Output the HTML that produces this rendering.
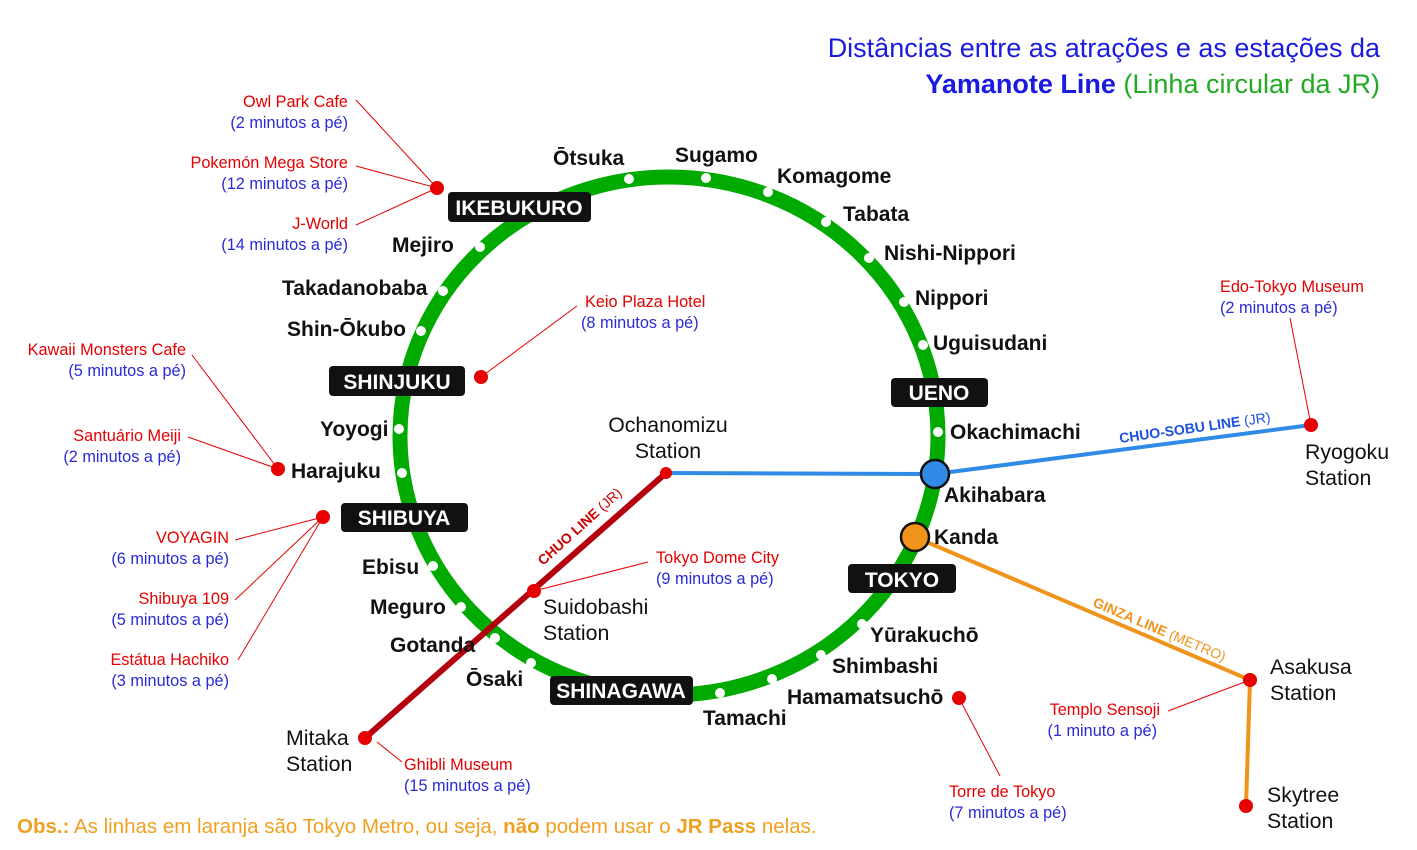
<!DOCTYPE html>
<html><head><meta charset="utf-8"><style>
body{margin:0;background:#fff}
svg{display:block;font-family:"Liberation Sans",sans-serif}
.s{font-weight:bold;font-size:21px;fill:#111}
.b{font-weight:bold;font-size:21px;fill:#fff}
.r{font-size:16.3px;fill:#e60000}
.u{font-size:16.3px;fill:#2a2ad8}
.t{font-size:21.3px;fill:#111}
</style></head><body>
<svg width="1417" height="850" viewBox="0 0 1417 850">
<text x="1380" y="57" text-anchor="end" font-size="27" fill="#1a1ae0">Distâncias entre as atrações e as estações da</text>
<text x="1380" y="93" text-anchor="end" font-size="27" fill="#22aa22"><tspan fill="#1a1ae0" font-weight="bold">Yamanote Line</tspan> (Linha circular da JR)</text>
<ellipse cx="669" cy="436" rx="269" ry="259" fill="none" stroke="#00aa00" stroke-width="15"/>
<g fill="#fff">
<circle cx="629" cy="179" r="5"/><circle cx="706" cy="178" r="5"/><circle cx="768" cy="192" r="5"/><circle cx="826" cy="222" r="5"/><circle cx="869" cy="258" r="5"/><circle cx="904" cy="302" r="5"/><circle cx="923" cy="345" r="5"/><circle cx="938" cy="432" r="5"/>
<circle cx="480" cy="247" r="5"/><circle cx="443" cy="291" r="5"/><circle cx="421" cy="331" r="5"/><circle cx="399" cy="429" r="5"/><circle cx="402" cy="473" r="5"/><circle cx="433" cy="566" r="5"/><circle cx="461" cy="607" r="5"/><circle cx="495" cy="638" r="5"/><circle cx="531" cy="663" r="5"/><circle cx="720" cy="693" r="5"/><circle cx="772" cy="679" r="5"/><circle cx="821" cy="655" r="5"/><circle cx="862" cy="624" r="5"/>
</g>
<polyline points="666,473 935,474 1311,425" fill="none" stroke="#2f8be6" stroke-width="4"/>
<line x1="666" y1="473" x2="365" y2="738" stroke="#b3000c" stroke-width="6"/>
<polyline points="915,537 1250,680 1246,806" fill="none" stroke="#f0931a" stroke-width="4"/>
<circle cx="935" cy="474" r="14" fill="#2f8be6" stroke="#111" stroke-width="2.5"/>
<circle cx="915" cy="537" r="14" fill="#f0931a" stroke="#111" stroke-width="2.5"/>
<text x="1120" y="443" font-size="14" font-weight="bold" fill="#1a4fe0" transform="rotate(-8 1120 443)">CHUO-SOBU LINE <tspan font-weight="normal">(JR)</tspan></text>
<text x="543" y="566" font-size="14" font-weight="bold" fill="#d00000" transform="rotate(-42 543 566)">CHUO LINE <tspan font-weight="normal">(JR)</tspan></text>
<text x="1092" y="606" font-size="14" font-weight="bold" fill="#f0931a" transform="rotate(23 1092 606)">GINZA LINE <tspan font-weight="normal">(METRO)</tspan></text>
<g stroke="#e60000" stroke-width="1">
<line x1="356" y1="100" x2="437" y2="188"/><line x1="356" y1="166" x2="437" y2="188"/><line x1="356" y1="225" x2="437" y2="188"/>
<line x1="577" y1="306" x2="481" y2="377"/>
<line x1="192" y1="355" x2="278" y2="469"/><line x1="188" y1="437" x2="278" y2="469"/>
<line x1="235" y1="540" x2="323" y2="517"/><line x1="235" y1="600" x2="323" y2="517"/><line x1="238" y1="660" x2="323" y2="517"/>
<line x1="648" y1="562" x2="534" y2="591"/>
<line x1="377" y1="742" x2="402" y2="762"/>
<line x1="1290" y1="318" x2="1311" y2="425"/>
<line x1="1168" y1="711" x2="1250" y2="680"/>
<line x1="959" y1="698" x2="1000" y2="776"/>
</g>
<g fill="#e60000">
<circle cx="437" cy="188" r="7"/><circle cx="481" cy="377" r="7"/><circle cx="278" cy="469" r="7"/><circle cx="323" cy="517" r="7"/><circle cx="666" cy="473" r="6"/><circle cx="534" cy="591" r="7"/><circle cx="365" cy="738" r="7"/><circle cx="1311" cy="425" r="7"/><circle cx="1250" cy="680" r="7"/><circle cx="1246" cy="806" r="7"/><circle cx="959" cy="698" r="7"/>
</g>
<g fill="#111">
<rect x="448" y="192" width="143" height="30" rx="4"/><rect x="329" y="366" width="136" height="30" rx="4"/><rect x="891" y="378" width="97" height="29" rx="4"/><rect x="341" y="503" width="127" height="29" rx="4"/><rect x="848" y="564" width="108" height="29" rx="4"/><rect x="550" y="676" width="143" height="29" rx="4"/>
</g>
<text class="b" x="519" y="215" text-anchor="middle">IKEBUKURO</text>
<text class="b" x="397" y="389" text-anchor="middle">SHINJUKU</text>
<text class="b" x="939" y="400" text-anchor="middle">UENO</text>
<text class="b" x="404" y="525" text-anchor="middle">SHIBUYA</text>
<text class="b" x="902" y="587" text-anchor="middle">TOKYO</text>
<text class="b" x="621" y="698" text-anchor="middle">SHINAGAWA</text>
<text class="s" x="553" y="165">Ōtsuka</text>
<text class="s" x="675" y="162">Sugamo</text>
<text class="s" x="777" y="183">Komagome</text>
<text class="s" x="843" y="221">Tabata</text>
<text class="s" x="884" y="260">Nishi-Nippori</text>
<text class="s" x="915" y="305">Nippori</text>
<text class="s" x="933" y="350">Uguisudani</text>
<text class="s" x="950" y="439">Okachimachi</text>
<text class="s" x="944" y="502">Akihabara</text>
<text class="s" x="934" y="544">Kanda</text>
<text class="s" x="870" y="642">Yūrakuchō</text>
<text class="s" x="832" y="673">Shimbashi</text>
<text class="s" x="787" y="704">Hamamatsuchō</text>
<text class="s" x="703" y="725">Tamachi</text>
<text class="s" x="466" y="686">Ōsaki</text>
<text class="s" x="390" y="652">Gotanda</text>
<text class="s" x="370" y="614">Meguro</text>
<text class="s" x="362" y="574">Ebisu</text>
<text class="s" x="291" y="478">Harajuku</text>
<text class="s" x="320" y="436">Yoyogi</text>
<text class="s" x="287" y="336">Shin-Ōkubo</text>
<text class="s" x="282" y="295">Takadanobaba</text>
<text class="s" x="392" y="252">Mejiro</text>
<text class="t" x="668" y="432" text-anchor="middle">Ochanomizu</text>
<text class="t" x="668" y="458" text-anchor="middle">Station</text>
<text class="t" x="543" y="614">Suidobashi</text><text class="t" x="543" y="640">Station</text>
<text class="t" x="286" y="745">Mitaka</text><text class="t" x="286" y="771">Station</text>
<text class="t" x="1305" y="459">Ryogoku</text><text class="t" x="1305" y="485">Station</text>
<text class="t" x="1270" y="674">Asakusa</text><text class="t" x="1270" y="700">Station</text>
<text class="t" x="1267" y="802">Skytree</text><text class="t" x="1267" y="828">Station</text>
<g text-anchor="end">
<text class="r" x="348" y="107">Owl Park Cafe</text><text class="u" x="348" y="128">(2 minutos a pé)</text>
<text class="r" x="348" y="168">Pokemón Mega Store</text><text class="u" x="348" y="189">(12 minutos a pé)</text>
<text class="r" x="348" y="229">J-World</text><text class="u" x="348" y="250">(14 minutos a pé)</text>
<text class="r" x="186" y="355">Kawaii Monsters Cafe</text><text class="u" x="186" y="376">(5 minutos a pé)</text>
<text class="r" x="181" y="441">Santuário Meiji</text><text class="u" x="181" y="462">(2 minutos a pé)</text>
<text class="r" x="229" y="543">VOYAGIN</text><text class="u" x="229" y="564">(6 minutos a pé)</text>
<text class="r" x="229" y="604">Shibuya 109</text><text class="u" x="229" y="625">(5 minutos a pé)</text>
<text class="r" x="229" y="665">Estátua Hachiko</text><text class="u" x="229" y="686">(3 minutos a pé)</text>
<text class="r" x="1160" y="715">Templo Sensoji</text><text class="u" x="1157" y="736">(1 minuto a pé)</text>
</g>
<text class="r" x="585" y="307">Keio Plaza Hotel</text><text class="u" x="581" y="328">(8 minutos a pé)</text>
<text class="r" x="656" y="563">Tokyo Dome City</text><text class="u" x="656" y="584">(9 minutos a pé)</text>
<text class="r" x="404" y="770">Ghibli Museum</text><text class="u" x="404" y="791">(15 minutos a pé)</text>
<text class="r" x="1220" y="292">Edo-Tokyo Museum</text><text class="u" x="1220" y="313">(2 minutos a pé)</text>
<text class="r" x="949" y="797">Torre de Tokyo</text><text class="u" x="949" y="818">(7 minutos a pé)</text>
<text x="17" y="833" font-size="20.5" fill="#f0a020"><tspan font-weight="bold">Obs.:</tspan> As linhas em laranja são Tokyo Metro, ou seja, <tspan font-weight="bold">não</tspan> podem usar o <tspan font-weight="bold">JR Pass</tspan> nelas.</text>
</svg>
</body></html>
